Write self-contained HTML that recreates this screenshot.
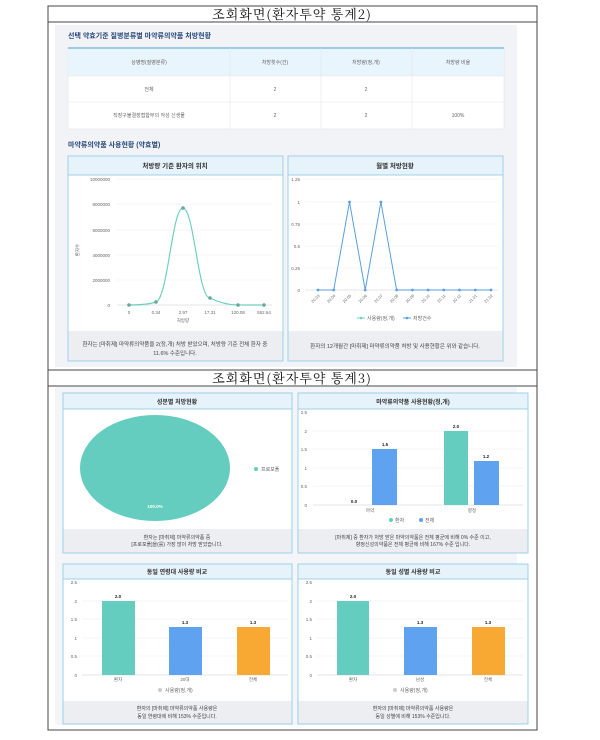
<!DOCTYPE html>
<html><head><meta charset="utf-8"><style>
html,body{margin:0;padding:0;background:#fff;}
svg{display:block;}
text{font-family:"Liberation Sans","Noto Sans CJK KR",sans-serif;}
.s{font-size:5px;fill:#666;}
.h{font-size:6.5px;fill:#333;font-weight:bold;}
.f{font-size:5.5px;fill:#444;}
.v{font-size:5.5px;fill:#222;font-weight:bold;}
.t{font-family:'Noto Serif CJK SC','Liberation Serif',serif;font-size:13px;fill:#111;letter-spacing:1px;}
</style></head><body>
<svg width="600" height="740" viewBox="0 0 600 740" xmlns="http://www.w3.org/2000/svg">
<rect x="48" y="6" width="489" height="724" fill="none" stroke="#444" stroke-width="1"/>
<line x1="48" y1="22" x2="537" y2="22" stroke="#444"/>
<text class="t" x="292" y="19" text-anchor="middle">조회화면(환자투약 통계2)</text>
<rect x="55" y="25" width="462" height="342" fill="#f1f3f6"/>
<text x="68" y="38" style="font-size:7px;fill:#2b4a7a;font-weight:bold">선택 약효기준 질병분류별 마약류의약품 처방현황</text>
<rect x="68" y="48" width="436" height="81" fill="#fff" stroke="#e3e6ea" stroke-width="0.6"/>
<rect x="68" y="48" width="436" height="28" fill="#e9f5fc"/>
<line x1="68" y1="48" x2="504" y2="48" stroke="#4aa3d8" stroke-width="1"/>
<line x1="68" y1="102" x2="504" y2="102" stroke="#e3e6ea" stroke-width="0.6"/>
<line x1="68" y1="76" x2="504" y2="76" stroke="#e3e6ea" stroke-width="0.6"/>
<line x1="230" y1="48" x2="230" y2="129" stroke="#e3e6ea" stroke-width="0.6"/>
<line x1="321" y1="48" x2="321" y2="129" stroke="#e3e6ea" stroke-width="0.6"/>
<line x1="412" y1="48" x2="412" y2="129" stroke="#e3e6ea" stroke-width="0.6"/>
<text class="s" x="149" y="64" text-anchor="middle">상병명(질병분류)</text>
<text class="s" x="275" y="64" text-anchor="middle">처방횟수(건)</text>
<text class="s" x="366" y="64" text-anchor="middle">처방량(정,개)</text>
<text class="s" x="458" y="64" text-anchor="middle">처방량 비율</text>
<text class="s" x="149" y="91" text-anchor="middle">전체</text>
<text class="s" x="275" y="91" text-anchor="middle">2</text>
<text class="s" x="366" y="91" text-anchor="middle">2</text>
<text class="s" x="149" y="117" text-anchor="middle">직장구불결장접합부의 악성 신생물</text>
<text class="s" x="275" y="117" text-anchor="middle">2</text>
<text class="s" x="366" y="117" text-anchor="middle">2</text>
<text class="s" x="458" y="117" text-anchor="middle">100%</text>
<text x="68" y="147" style="font-size:7px;fill:#2b4a7a;font-weight:bold">마약류의약품 사용현황 (약효별)</text>

<rect x="68" y="156" width="215" height="205" fill="#fff" stroke="#9fd0ea" stroke-width="1"/>
<rect x="68.5" y="156.5" width="214" height="18.5" fill="#e6f3fb"/>
<line x1="68" y1="175" x2="283" y2="175" stroke="#9fd0ea"/>
<text class="h" x="175" y="168" text-anchor="middle">처방량 기준 환자의 위치</text>
<g stroke="#eceef1" stroke-width="0.6">
<line x1="117" y1="179" x2="272" y2="179"/><line x1="117" y1="204" x2="272" y2="204"/>
<line x1="117" y1="230" x2="272" y2="230"/><line x1="117" y1="255" x2="272" y2="255"/>
<line x1="117" y1="280" x2="272" y2="280"/></g>
<line x1="117" y1="305" x2="272" y2="305" stroke="#ccc" stroke-width="0.6"/>
<g class="s" text-anchor="end" style="font-size:4.5px">
<text x="110" y="181">10000000</text><text x="110" y="206">8000000</text><text x="110" y="232">6000000</text>
<text x="110" y="257">4000000</text><text x="110" y="282">2000000</text><text x="110" y="307">0</text></g>
<text class="s" x="79" y="250" transform="rotate(-90 79 250)" text-anchor="middle" style="font-size:4.5px">환자수</text>
<g class="s" text-anchor="middle" style="font-size:4.5px">
<text x="129" y="314">0</text><text x="156" y="314">0.34</text><text x="183" y="314">2.97</text>
<text x="210" y="314">17.31</text><text x="238" y="314">120.08</text><text x="264" y="314">552.64</text>
<text x="183" y="322">처방량</text></g>
<path d="M129,305 C140,305 150,304 156,302 C168,298 172,208 183,208 C194,208 198,298 210,298 C218,302 228,305 238,305 L264,305" fill="none" stroke="#6fd0c0" stroke-width="1.2"/>
<g fill="#6aa89a"><circle cx="129" cy="305" r="1.8"/><circle cx="156" cy="302" r="1.8"/><circle cx="183" cy="208" r="1.8"/>
<circle cx="210" cy="298" r="1.8"/><circle cx="238" cy="305" r="1.8"/><circle cx="264" cy="305" r="1.8"/></g>
<rect x="68.5" y="331" width="214" height="29.5" fill="#eceef1"/>
<text class="f" x="175" y="346" text-anchor="middle">환자는 [마취제] 마약류의약품을 2(정,개) 처방 받았으며, 처방량 기준 전체 환자 중</text>
<text class="f" x="175" y="355" text-anchor="middle">11.6% 수준입니다.</text>

<rect x="288" y="156" width="215" height="205" fill="#fff" stroke="#9fd0ea" stroke-width="1"/>
<rect x="288.5" y="156.5" width="214" height="18.5" fill="#e6f3fb"/>
<line x1="288" y1="175" x2="503" y2="175" stroke="#9fd0ea"/>
<text class="h" x="395" y="168" text-anchor="middle">월별 처방현황</text>
<g stroke="#eceef1" stroke-width="0.6">
<line x1="305" y1="179" x2="498" y2="179"/><line x1="305" y1="202" x2="498" y2="202"/>
<line x1="305" y1="224" x2="498" y2="224"/><line x1="305" y1="246" x2="498" y2="246"/>
<line x1="305" y1="268" x2="498" y2="268"/></g>
<line x1="305" y1="290" x2="498" y2="290" stroke="#ccc" stroke-width="0.6"/>
<g class="s" text-anchor="end" style="font-size:4.5px">
<text x="300" y="181">1.25</text><text x="300" y="204">1</text><text x="300" y="226">0.75</text>
<text x="300" y="248">0.5</text><text x="300" y="270">0.25</text><text x="300" y="292">0</text></g>
<polyline points="318,290 333.7,290 349.5,202 365.2,290 380.9,202 396.6,290 412.4,290 428.1,290 443.8,290 459.5,290 475.3,290 491,290" fill="none" stroke="#5a9fe0" stroke-width="1"/>
<g fill="#5a9fe0"><circle cx="318" cy="290" r="1.4"/><circle cx="333.7" cy="290" r="1.4"/><circle cx="349.5" cy="202" r="1.4"/><circle cx="365.2" cy="290" r="1.4"/><circle cx="380.9" cy="202" r="1.4"/><circle cx="396.6" cy="290" r="1.4"/><circle cx="412.4" cy="290" r="1.4"/><circle cx="428.1" cy="290" r="1.4"/><circle cx="443.8" cy="290" r="1.4"/><circle cx="459.5" cy="290" r="1.4"/><circle cx="475.3" cy="290" r="1.4"/><circle cx="491" cy="290" r="1.4"/></g>
<g class="s" style="font-size:4px" text-anchor="end">
<text transform="translate(320,296) rotate(-45)">20.03</text><text transform="translate(335.7,296) rotate(-45)">20.04</text>
<text transform="translate(351.5,296) rotate(-45)">20.05</text><text transform="translate(367.2,296) rotate(-45)">20.06</text>
<text transform="translate(382.9,296) rotate(-45)">20.07</text><text transform="translate(398.6,296) rotate(-45)">20.08</text>
<text transform="translate(414.4,296) rotate(-45)">20.09</text><text transform="translate(430.1,296) rotate(-45)">20.10</text>
<text transform="translate(445.8,296) rotate(-45)">20.11</text><text transform="translate(461.5,296) rotate(-45)">20.12</text>
<text transform="translate(477.3,296) rotate(-45)">21.01</text><text transform="translate(493,296) rotate(-45)">21.02</text></g>
<line x1="357" y1="318" x2="365" y2="318" stroke="#6fd0c0"/><circle cx="361" cy="318" r="1.3" fill="#6fd0c0"/>
<text class="s" x="367" y="320">사용량(정,개)</text>
<line x1="403" y1="318" x2="411" y2="318" stroke="#5a9fe0"/><circle cx="407" cy="318" r="1.3" fill="#5a9fe0"/>
<text class="s" x="413" y="320">처방건수</text>
<rect x="288.5" y="331" width="214" height="29.5" fill="#eceef1"/>
<text class="f" x="395" y="348" text-anchor="middle">환자의 12개월간 [마취제] 마약류의약품 처방 및 사용현황은 위와 같습니다.</text>

<line x1="48" y1="370" x2="537" y2="370" stroke="#444"/>
<line x1="48" y1="386" x2="537" y2="386" stroke="#444"/>
<text class="t" x="292" y="383" text-anchor="middle">조회화면(환자투약 통계3)</text>
<rect x="55" y="387" width="462" height="338" fill="#f3f5f8"/>

<rect x="63" y="393" width="229" height="160" fill="#fff" stroke="#9fd0ea"/>
<rect x="63.5" y="393.5" width="228" height="15.5" fill="#e6f3fb"/>
<line x1="63" y1="409" x2="292" y2="409" stroke="#9fd0ea"/>
<text class="h" x="177" y="404" text-anchor="middle" style="font-size:6px">성분별 처방현황</text>
<ellipse cx="155" cy="468" rx="75" ry="53" fill="#64cdbf"/>
<text x="155" y="508" text-anchor="middle" style="font-size:4.5px;fill:#fff;font-weight:bold">100.0%</text>
<circle cx="256" cy="469" r="2" fill="#64cdbf"/>
<text class="s" x="261" y="471">프로포폴</text>
<rect x="63.5" y="529" width="228" height="23.5" fill="#eceef1"/>
<text class="f" x="177" y="539" text-anchor="middle" style="font-size:5px">환자는 [마취제] 마약류의약품 중</text>
<text class="f" x="177" y="546" text-anchor="middle" style="font-size:5px">[프로포폴]을(를) 가장 많이 처방 받았습니다.</text>

<rect x="298" y="393" width="230" height="160" fill="#fff" stroke="#9fd0ea"/>
<rect x="298.5" y="393.5" width="229" height="15.5" fill="#e6f3fb"/>
<line x1="298" y1="409" x2="528" y2="409" stroke="#9fd0ea"/>
<text class="h" x="413" y="404" text-anchor="middle" style="font-size:6px">마약류의약품 사용현황(정,개)</text>
<g stroke="#eceef1" stroke-width="0.6">
<line x1="313" y1="431" x2="523" y2="431"/><line x1="313" y1="449" x2="523" y2="449"/>
<line x1="313" y1="468" x2="523" y2="468"/><line x1="313" y1="486" x2="523" y2="486"/></g>
<line x1="313" y1="505" x2="523" y2="505" stroke="#ccc" stroke-width="0.6"/>
<g class="s" style="font-size:4.5px" text-anchor="end"><text x="307" y="414">2.5</text><text x="307" y="433">2</text><text x="307" y="451">1.5</text><text x="307" y="470">1</text><text x="307" y="488">0.5</text><text x="307" y="507">0</text></g>
<rect x="372" y="449" width="25" height="56" fill="#5fa3f0"/>
<rect x="444" y="431" width="24" height="74" fill="#64cdbf"/>
<rect x="474" y="461" width="25" height="44" fill="#5fa3f0"/>
<g class="v" text-anchor="middle" style="font-size:4.5px"><text x="354" y="503">0.0</text><text x="385" y="446">1.5</text><text x="456" y="428">2.0</text><text x="486" y="458">1.2</text></g>
<g class="s" style="font-size:4.5px" text-anchor="middle"><text x="370" y="512">마약</text><text x="472" y="512">향정</text></g>
<circle cx="391" cy="520" r="2" fill="#64cdbf"/><text class="s" x="395" y="522">환자</text>
<circle cx="421" cy="520" r="2" fill="#5fa3f0"/><text class="s" x="425" y="522">전체</text>
<rect x="298.5" y="529" width="229" height="23.5" fill="#eceef1"/>
<text class="f" x="413" y="539" text-anchor="middle" style="font-size:5px">[마취제] 중 환자가 처방 받은 마약의약품은 전체 평균에 비해 0% 수준 이고,</text>
<text class="f" x="413" y="546" text-anchor="middle" style="font-size:5px">향정신성의약품은 전체 평균에 비해 167% 수준 입니다.</text>

<rect x="63" y="564" width="229" height="160" fill="#fff" stroke="#9fd0ea"/>
<rect x="63.5" y="564.5" width="228" height="14.5" fill="#e6f3fb"/>
<line x1="63" y1="579" x2="292" y2="579" stroke="#9fd0ea"/>
<text class="h" x="177" y="574" text-anchor="middle" style="font-size:6px">동일 연령대 사용량 비교</text>
<g stroke="#eceef1" stroke-width="0.6">
<line x1="82" y1="601" x2="288" y2="601"/><line x1="82" y1="619" x2="288" y2="619"/>
<line x1="82" y1="638" x2="288" y2="638"/><line x1="82" y1="656" x2="288" y2="656"/></g>
<line x1="82" y1="675" x2="288" y2="675" stroke="#ccc" stroke-width="0.6"/>
<g class="s" style="font-size:4.5px" text-anchor="end"><text x="77" y="584">2.5</text><text x="77" y="603">2</text><text x="77" y="621">1.5</text><text x="77" y="640">1</text><text x="77" y="658">0.5</text><text x="77" y="677">0</text></g>
<rect x="102" y="601" width="33" height="74" fill="#64cdbf"/>
<rect x="169" y="627" width="33" height="48" fill="#5fa3f0"/>
<rect x="237" y="627" width="33" height="48" fill="#f8a933"/>
<g class="v" text-anchor="middle" style="font-size:4.5px"><text x="118" y="598">2.0</text><text x="185" y="624">1.3</text><text x="253" y="624">1.3</text></g>
<g class="s" style="font-size:4.5px" text-anchor="middle"><text x="118" y="681">환자</text><text x="185" y="681">20대</text><text x="253" y="681">전체</text></g>
<circle cx="160" cy="690" r="2" fill="#ccc"/><text class="s" x="165" y="692">사용량(정,개)</text>
<rect x="63.5" y="701" width="228" height="22.5" fill="#eceef1"/>
<text class="f" x="177" y="710" text-anchor="middle" style="font-size:5px">환자의 [마취제] 마약류의약품 사용량은</text>
<text class="f" x="177" y="718" text-anchor="middle" style="font-size:5px">동일 연령대에 비해 153% 수준입니다.</text>

<rect x="298" y="564" width="230" height="160" fill="#fff" stroke="#9fd0ea"/>
<rect x="298.5" y="564.5" width="229" height="14.5" fill="#e6f3fb"/>
<line x1="298" y1="579" x2="528" y2="579" stroke="#9fd0ea"/>
<text class="h" x="413" y="574" text-anchor="middle" style="font-size:6px">동일 성별 사용량 비교</text>
<g stroke="#eceef1" stroke-width="0.6">
<line x1="317" y1="601" x2="523" y2="601"/><line x1="317" y1="619" x2="523" y2="619"/>
<line x1="317" y1="638" x2="523" y2="638"/><line x1="317" y1="656" x2="523" y2="656"/></g>
<line x1="317" y1="675" x2="523" y2="675" stroke="#ccc" stroke-width="0.6"/>
<g class="s" style="font-size:4.5px" text-anchor="end"><text x="312" y="584">2.5</text><text x="312" y="603">2</text><text x="312" y="621">1.5</text><text x="312" y="640">1</text><text x="312" y="658">0.5</text><text x="312" y="677">0</text></g>
<rect x="337" y="601" width="32" height="74" fill="#64cdbf"/>
<rect x="404" y="627" width="33" height="48" fill="#5fa3f0"/>
<rect x="472" y="627" width="33" height="48" fill="#f8a933"/>
<g class="v" text-anchor="middle" style="font-size:4.5px"><text x="353" y="598">2.0</text><text x="420" y="624">1.3</text><text x="488" y="624">1.3</text></g>
<g class="s" style="font-size:4.5px" text-anchor="middle"><text x="353" y="681">환자</text><text x="420" y="681">남성</text><text x="488" y="681">전체</text></g>
<circle cx="395" cy="690" r="2" fill="#ccc"/><text class="s" x="400" y="692">사용량(정,개)</text>
<rect x="298.5" y="701" width="229" height="22.5" fill="#eceef1"/>
<text class="f" x="413" y="710" text-anchor="middle" style="font-size:5px">환자의 [마취제] 마약류의약품 사용량은</text>
<text class="f" x="413" y="718" text-anchor="middle" style="font-size:5px">동일 성별에 비해 153% 수준입니다.</text>
</svg>
</body></html>
